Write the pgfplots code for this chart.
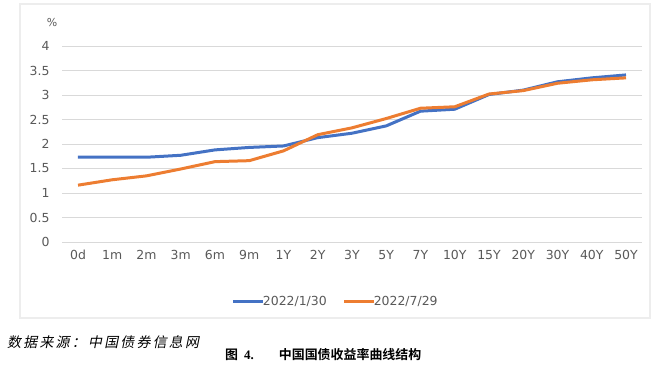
\documentclass[border=0pt]{standalone}
\usepackage{pgfplots}
\pgfplotsset{compat=1.18}
\usepackage{fontspec}
\setmainfont{DejaVu Sans}
\newfontfamily\cjksrc[FakeSlant=0.2,LetterSpace=16]{Noto Sans CJK SC}
\newfontfamily\cjkcap[BoldFont={Noto Sans CJK SC Bold}]{Noto Sans CJK SC}
\newfontfamily\capserif{Liberation Serif}
\definecolor{cblue}{HTML}{4472C4}
\definecolor{corange}{HTML}{ED7D31}
\definecolor{tgray}{HTML}{595959}
\definecolor{ggray}{HTML}{D9D9D9}
\pgfplotstableread{
x a b
0 1.73 1.16
1 1.73 1.27
2 1.73 1.35
3 1.77 1.49
4 1.88 1.64
5 1.93 1.66
6 1.96 1.86
7 2.13 2.19
8 2.22 2.33
9 2.37 2.52
10 2.67 2.73
11 2.71 2.76
12 3.01 3.02
13 3.10 3.09
14 3.27 3.24
15 3.35 3.31
16 3.41 3.35
}\curve
\begin{document}
\begin{tikzpicture}[x=1bp,y=-1bp]
\path[use as bounding box] (0,0) rectangle (652,382);
\draw[black!7, line width=1.2bp] (20,4) rectangle (650,318);
\begin{axis}[
  at={(62bp,-242bp)}, anchor=south west,
  scale only axis, width=580bp, height=196bp,
  xmin=-0.467, xmax=16.467, ymin=0, ymax=4,
  ytick={0,0.5,...,4},
  yticklabels={0,0.5,1,1.5,2,2.5,3,3.5,4},
  xtick={0,...,16},
  xticklabels={0d,1m,2m,3m,6m,9m,1Y,2Y,3Y,5Y,7Y,10Y,15Y,20Y,30Y,40Y,50Y},
  axis line style={draw=none},
  major tick length=0pt,
  ymajorgrids, grid style={ggray, line width=0.9bp},
  tick label style={font=\fontsize{12.5}{14}\selectfont, text=tgray},
  yticklabel style={anchor=east, xshift=-9bp},
  xticklabel style={anchor=center, yshift=-13bp},
  legend style={at={(0.472,-0.306)}, anchor=center, draw=none, fill=none,
    font=\fontsize{12.5}{14}\selectfont, text=tgray, legend columns=2,
    /tikz/every even column/.append style={column sep=14bp}},
  legend image code/.code={\draw[#1] (0bp,0bp) -- (30bp,0bp);},
  legend cell align=left,
]
\addplot[cblue, line width=3bp, line join=round] table[x=x,y=a] {\curve};
\addlegendentry{\hspace{-4bp}2022/1/30}
\addplot[corange, line width=3bp, line join=round] table[x=x,y=b] {\curve};
\addlegendentry{\hspace{-4bp}2022/7/29}
\end{axis}
\node[text=tgray, font=\fontsize{11}{12}\selectfont] at (52,23) {\%};
\node[anchor=west, inner sep=0pt, font=\fontsize{14}{16}\selectfont] at (7,342.5) {\cjksrc 数据来源：中国债券信息网};
\node[anchor=west, inner sep=0pt, font=\fontsize{13}{16}\selectfont\bfseries] at (225,355) {\cjkcap 图\hspace{6bp}{\capserif\bfseries 4.}\hspace{25bp}中国国债收益率曲线结构};
\end{tikzpicture}
\end{document}
